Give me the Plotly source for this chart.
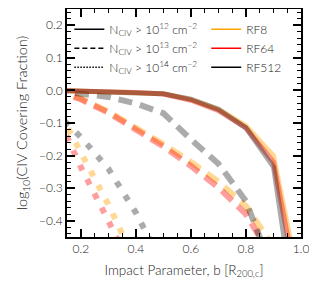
import plotly.graph_objects as go

# Impact parameter bins [R200,c]
b = [0.1, 0.2, 0.3, 0.4, 0.5, 0.6, 0.7, 0.8, 0.9, 1.0]

# log10 covering fraction, N_CIV > 1e12 cm^-2 (solid)
n12_rf8 = [0.0, -0.002, -0.003, -0.005, -0.010, -0.028, -0.058, -0.108, -0.200, -0.62]
n12_rf64 = [0.0, -0.002, -0.003, -0.006, -0.011, -0.030, -0.062, -0.115, -0.220, -0.66]
n12_rf512 = [0.0, -0.002, -0.003, -0.005, -0.010, -0.027, -0.058, -0.115, -0.235, -0.80]

# N_CIV > 1e13 cm^-2 (dashed)
n13_rf8 = [0.005, -0.025, -0.065, -0.113, -0.165, -0.220, -0.280, -0.355, -0.480, -0.75]
n13_rf64 = [0.003, -0.027, -0.068, -0.118, -0.172, -0.232, -0.298, -0.380, -0.520, -0.80]
n13_rf512 = [0.0, -0.008, -0.020, -0.040, -0.070, -0.150, -0.225, -0.340, -0.560, -0.90]

# N_CIV > 1e14 cm^-2 (dotted)
n14_rf8 = [-0.03, -0.19, -0.35, -0.53, -0.68, -0.84, -1.02, -1.22, -1.50, -2.0]
n14_rf64 = [-0.05, -0.235, -0.40, -0.56, -0.72, -0.88, -1.06, -1.26, -1.55, -2.1]
n14_rf512 = [-0.06, -0.143, -0.24, -0.375, -0.54, -0.70, -0.88, -1.08, -1.35, -1.9]

runs = ["RF8", "RF64", "RF512"]
run_colors = {"RF8": "rgba(255,165,0,{a})", "RF64": "rgba(255,0,0,{a})", "RF512": "rgba(0,0,0,{a})"}
run_alpha = {"RF8": 0.42, "RF64": 0.38, "RF512": 0.33}
legend_colors = {"RF8": "#FFA500", "RF64": "#FF0000", "RF512": "#000000"}

thresholds = [
    ("N<sub>CIV</sub> > 10<sup>12</sup> cm<sup>−2</sup>", "solid", 5, [n12_rf8, n12_rf64, n12_rf512]),
    ("N<sub>CIV</sub> > 10<sup>13</sup> cm<sup>−2</sup>", "14px,8px", 6, [n13_rf8, n13_rf64, n13_rf512]),
    ("N<sub>CIV</sub> > 10<sup>14</sup> cm<sup>−2</sup>", "6px,10px", 6, [n14_rf8, n14_rf64, n14_rf512]),
]
legend_dash = ["solid", "5px,3px", "1.5px,1.5px"]

fig = go.Figure()

for (label, dash, width, series) in thresholds[::-1]:
    for run, ys in zip(runs, series):
        fig.add_trace(go.Scatter(
            x=b, y=ys, mode="lines", showlegend=False, hoverinfo="skip",
            line=dict(color=run_colors[run].format(a=run_alpha[run]), width=width, dash=dash),
        ))

# Legend 1: line styles
for (label, _, _, _), ld in zip(thresholds, legend_dash):
    fig.add_trace(go.Scatter(
        x=[None], y=[None], mode="lines", name=label, legend="legend",
        line=dict(color="black", width=1.5, dash=ld),
    ))
# Legend 2: runs
for run in runs:
    fig.add_trace(go.Scatter(
        x=[None], y=[None], mode="lines", name=run, legend="legend2",
        line=dict(color=legend_colors[run], width=1.5),
    ))

font_family = "Lato, DejaVu Sans, sans-serif"
text_color = "#222222"

axis_common = dict(
    showline=True, linecolor="black", linewidth=1.6, mirror="allticks",
    ticks="inside", ticklen=8, tickwidth=1.6, tickcolor="black",
    showgrid=False, zeroline=False, automargin=False,
    tickfont=dict(family=font_family, size=12, color=text_color, weight=300),
    tickformat=".1f",
)

fig.update_xaxes(
    range=[0.15, 1.0], tick0=0.2, dtick=0.2,
    minor=dict(ticks="inside", ticklen=4, tickwidth=1.2, tickcolor="black", dtick=0.05, tick0=0.0),
    title=dict(text="Impact Parameter, b [R<sub>200,c</sub>]",
               font=dict(family=font_family, size=13.5, color=text_color, weight=300), standoff=10),
    **axis_common,
)
fig.update_yaxes(
    range=[-0.45, 0.25], tick0=0.0, dtick=0.1,
    minor=dict(ticks="inside", ticklen=4, tickwidth=1.2, tickcolor="black", dtick=0.02, tick0=0.0),
    title=dict(text="log<sub>10</sub>(CIV Covering Fraction)",
               font=dict(family=font_family, size=14.5, color=text_color, weight=300), standoff=8),
    **axis_common,
)

legend_common = dict(
    bgcolor="rgba(0,0,0,0)", borderwidth=0,
    font=dict(family=font_family, size=12, color=text_color, weight=300),
    yanchor="top", xanchor="left", tracegroupgap=0, itemwidth=30,
)
# page body adds an 8px offset, so the figure is 8px smaller on each side
fig.update_layout(
    width=309, height=283,
    margin=dict(l=59, r=16, t=1, b=54, autoexpand=False),
    paper_bgcolor="white", plot_bgcolor="white",
    font=dict(family=font_family, color=text_color),
    legend=dict(x=0.01, y=0.975, **legend_common),
    legend2=dict(x=0.595, y=0.975, **legend_common),
)

fig.write_html("out.html")
